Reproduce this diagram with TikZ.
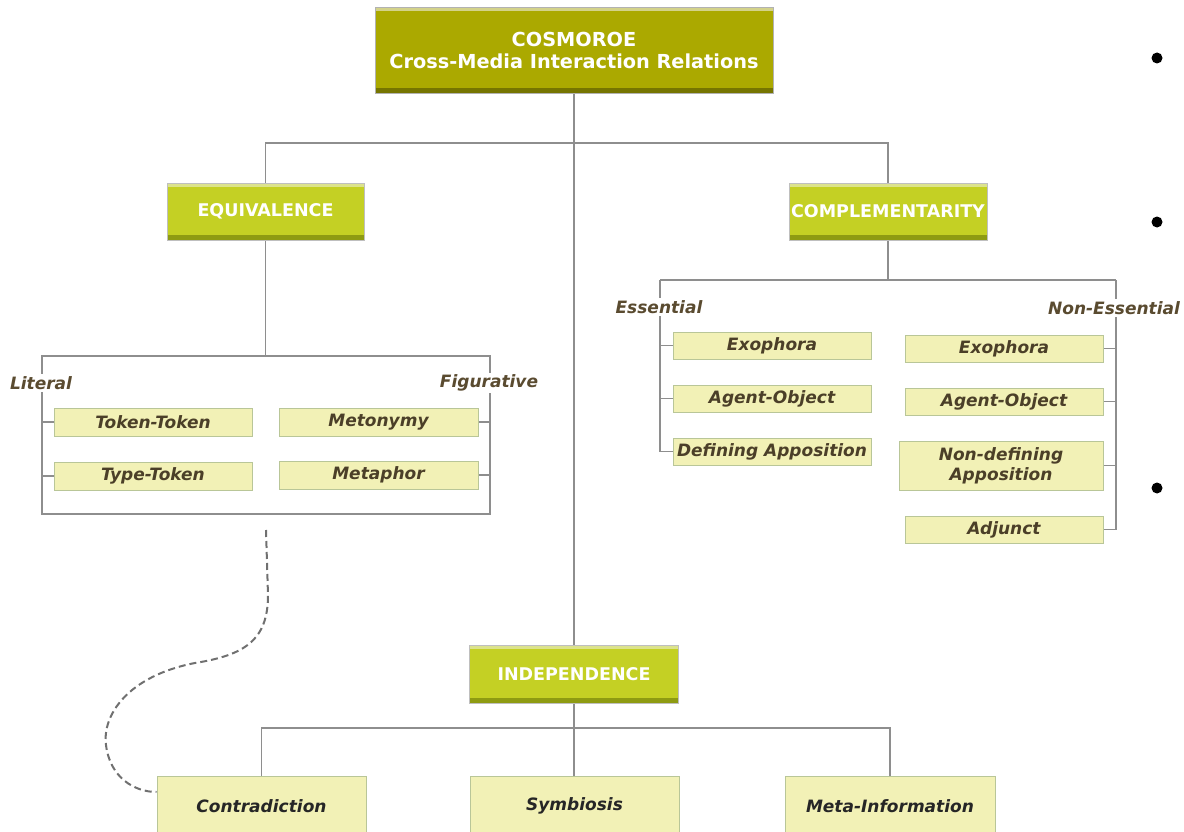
\documentclass[tikz,border=0pt]{standalone}
\usepackage{fontspec}
\setmainfont{DejaVu Sans}
\usetikzlibrary{backgrounds}
\definecolor{topfill}{HTML}{ABA900}
\definecolor{toplight}{HTML}{D3D28A}
\definecolor{topdark}{HTML}{767500}
\definecolor{greenfill}{HTML}{C4D024}
\definecolor{greenlight}{HTML}{DCE38C}
\definecolor{greendark}{HTML}{8E9B12}
\definecolor{palefill}{HTML}{F2F1B6}
\definecolor{paleborder}{HTML}{B9C698}
\definecolor{textbrown}{HTML}{4B3F28}
\definecolor{labbrown}{HTML}{5A4B30}
\definecolor{linegray}{HTML}{8E8E8E}
\definecolor{dashgray}{HTML}{707070}
\tikzset{
  box/.style={rectangle, inner sep=0pt, align=center},
  bevel/.style n args={2}{path picture={
    \fill[#1] (path picture bounding box.north west) rectangle ([yshift=-4pt]path picture bounding box.north east);
    \fill[#2] ([yshift=5pt]path picture bounding box.south west) rectangle (path picture bounding box.south east);}},
  bigbox/.style={box, fill=topfill, draw=gray!60, line width=0.8pt, text=white,
    font=\fontsize{19.3}{23}\selectfont\bfseries, bevel={toplight}{topdark}},
  catbox/.style={box, fill=greenfill, draw=gray!50, line width=0.8pt, text=white,
    font=\fontsize{17.5}{20}\selectfont\bfseries, bevel={greenlight}{greendark}},
  leaf/.style={box, fill=palefill, draw=paleborder, line width=1pt, text=textbrown,
    font=\fontsize{17}{20}\selectfont\bfseries\itshape},
  bottomleaf/.style={leaf, text=black!85, font=\fontsize{17}{20}\selectfont\bfseries\itshape},
  lab/.style={fill=white, inner sep=2pt, text=labbrown, font=\fontsize{17}{20}\selectfont\bfseries\itshape},
  conn/.style={draw=linegray, line width=1.1pt},
  dot/.style={circle, fill=black, inner sep=0pt, minimum size=11pt},
}
\begin{document}
\begin{tikzpicture}[x=1pt, y=-1pt]
\useasboundingbox (0,0) rectangle (1184,832);

% main nodes
\node[bigbox, minimum width=398pt, minimum height=86pt] (top) at (574,50)
  {COSMOROE\\[-1pt]Cross-Media Interaction Relations};
\node[catbox, minimum width=197pt, minimum height=57pt] (eq) at (265.5,211.5) {EQUIVALENCE};
\node[catbox, minimum width=198pt, minimum height=57pt] (comp) at (888,211.5) {COMPLEMENTARITY};
\node[catbox, minimum width=209pt, minimum height=58pt] (ind) at (574,674) {INDEPENDENCE};

% equivalence leaves
\node[leaf, minimum width=198pt, minimum height=28pt] (tt) at (153,422) {Token-Token};
\node[leaf, minimum width=198pt, minimum height=28pt] (tyt) at (153,476) {Type-Token};
\node[leaf, minimum width=199pt, minimum height=28pt] (mety) at (378.5,422) {Metonymy};
\node[leaf, minimum width=199pt, minimum height=28pt] (meta) at (378.5,475) {Metaphor};

% complementarity leaves
\node[leaf, minimum width=198pt, minimum height=27pt] (ex1) at (772,345.5) {Exophora};
\node[leaf, minimum width=198pt, minimum height=27pt] (ao1) at (772,398.5) {Agent-Object};
\node[leaf, minimum width=198pt, minimum height=27pt] (da) at (772,451.5) {Defining Apposition};
\node[leaf, minimum width=198pt, minimum height=27pt] (ex2) at (1004,348.5) {Exophora};
\node[leaf, minimum width=198pt, minimum height=27pt] (ao2) at (1004,401.5) {Agent-Object};
\node[leaf, minimum width=204pt, minimum height=49pt, font=\fontsize{17}{20}\selectfont\bfseries\itshape] (nda) at (1001,465.5) {Non-defining\\Apposition};
\node[leaf, minimum width=198pt, minimum height=27pt] (adj) at (1004,529.5) {Adjunct};

% independence leaves
\node[bottomleaf, minimum width=209pt, minimum height=60pt] (con) at (261.5,806) {Contradiction};
\node[bottomleaf, minimum width=209pt, minimum height=60pt] (sym) at (574.5,806) {Symbiosis};
\node[bottomleaf, minimum width=210pt, minimum height=60pt] (mi) at (890,806) {Meta-Information};

% group labels
\node[lab] (lit) at (41,383) {Literal};
\node[lab] (fig) at (489,383) {Figurative};
\node[lab] (ess) at (659,307) {Essential};
\node[lab] (ness) at (1114,308) {Non-Essential};

% bullets
\node[dot] (b1) at (1157,58) {};
\node[dot] (b2) at (1157,222) {};
\node[dot] (b3) at (1157,488) {};

% junction coordinates
\coordinate (j1) at (574,143);
\coordinate (j2) at (574,728);
\coordinate (eqL) at (42,356);
\coordinate (eqR) at (490,356);
\coordinate (eqLB) at (42,514);
\coordinate (eqRB) at (490,514);
\coordinate (cL) at (660,280);
\coordinate (cR) at (1116,280);
\coordinate (ds) at (266,530);

\begin{scope}[on background layer]
  % top level
  \draw[conn] (top.south) -- (ind.north);
  \draw[conn] (eq.north) |- (j1) -| (comp.north);
  % equivalence bracket
  \draw[conn] (eq.south) -- (eq.south |- eqL);
  \draw[conn] (eqL) -- (eqR) -- (eqRB) -- (eqLB) -- cycle;
  \draw[conn] (tt.west) -- (tt.west -| eqL);
  \draw[conn] (tyt.west) -- (tyt.west -| eqL);
  \draw[conn] (mety.east) -- (mety.east -| eqR);
  \draw[conn] (meta.east) -- (meta.east -| eqR);
  % complementarity bracket
  \draw[conn] (comp.south) -- (comp.south |- cL);
  \draw[conn] (cL) -- (cR);
  \draw[conn] (cL) |- (da.west);
  \draw[conn] (cR) |- (adj.east);
  \draw[conn] (ex1.west) -- (ex1.west -| cL);
  \draw[conn] (ao1.west) -- (ao1.west -| cL);
  \draw[conn] (ex2.east) -- (ex2.east -| cR);
  \draw[conn] (ao2.east) -- (ao2.east -| cR);
  \draw[conn] (nda.east) -- (nda.east -| cR);
  % independence
  \draw[conn] (ind.south) -- (j2);
  \draw[conn] (con.north) |- (j2) -| (mi.north);
  \draw[conn] (j2) -- (sym.north -| j2);
\end{scope}

% dashed link
\draw[dashgray, line width=2pt, dash pattern=on 7pt off 4pt]
  (ds) -- (268,595) .. controls (268,640) and (245,655) .. (195,663)
  .. controls (128,676) and (102,715) .. (106,745)
  .. controls (110,778) and (135,792) .. ([yshift=14pt]con.west);
\end{tikzpicture}
\end{document}
